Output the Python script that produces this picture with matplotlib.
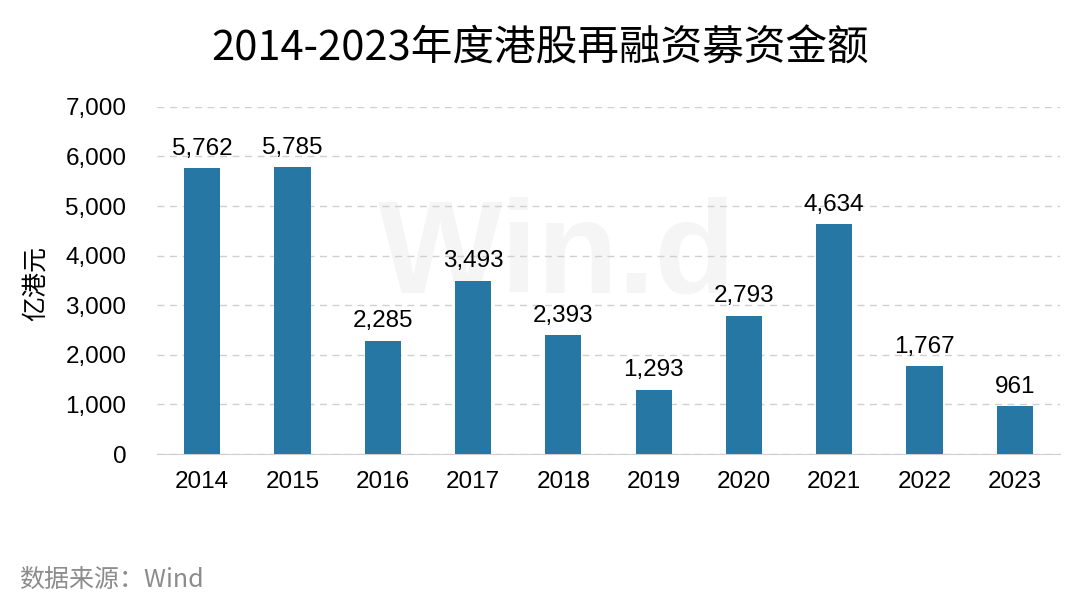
import numpy as np
import matplotlib.pyplot as plt

plt.rcParams['font.family'] = ['Noto Sans CJK SC', 'DejaVu Sans']

years = ['2014', '2015', '2016', '2017', '2018', '2019', '2020', '2021', '2022', '2023']
amounts = [5762, 5785, 2285, 3493, 2393, 1293, 2793, 4634, 1767, 961]

num_font = ['Liberation Sans', 'DejaVu Sans']

fig = plt.figure(figsize=(10.8, 6.07), dpi=100)
ax = fig.add_axes([0.1454, 0.252, 0.836, 0.572])

x = np.arange(len(years))
ax.bar(x, amounts, width=0.40, color='#2677A4', zorder=3)

# value labels above bars
for xi, v in zip(x, amounts):
    ax.text(xi, v + 170, f'{v:,}', ha='center', va='bottom', fontsize=17.5,
            family=num_font, color='black', zorder=4)

ax.set_xlim(-0.5, len(years) - 0.5)
ax.set_ylim(0, 7000)
ax.set_yticks(range(0, 7001, 1000))
ax.set_yticklabels([f'{t:,}' for t in range(0, 7001, 1000)])
ax.set_xticks(x)
ax.set_xticklabels(years)
for lab in ax.get_xticklabels() + ax.get_yticklabels():
    lab.set_family(num_font)
    lab.set_fontsize(17.5)
ax.tick_params(axis='x', length=0, pad=12)
ax.tick_params(axis='y', length=0, pad=22)

ax.grid(axis='y', linestyle=(0, (5, 4)), color='#D0D0D0', linewidth=1, zorder=0)
for s in ['top', 'right', 'left']:
    ax.spines[s].set_visible(False)
ax.spines['bottom'].set_color('#D0D0D0')

ax.set_ylabel('亿港元', fontsize=18)
ax.yaxis.set_label_coords(-0.12, 0.49)

# faint watermark
ax.text(0.443, 0.565, 'Win.d', transform=ax.transAxes, ha='center', va='center',
        fontsize=95, fontweight='bold', color='#F5F5F5', zorder=1, family=num_font)

fig.text(0.5, 0.92, '2014-2023年度港股再融资募资金额', ha='center', va='center',
         fontsize=30, color='black')
fig.text(0.018, 0.045, '数据来源：Wind', ha='left', va='center', fontsize=18, color='#8C8C8C')

plt.savefig('out.png', dpi=100)
